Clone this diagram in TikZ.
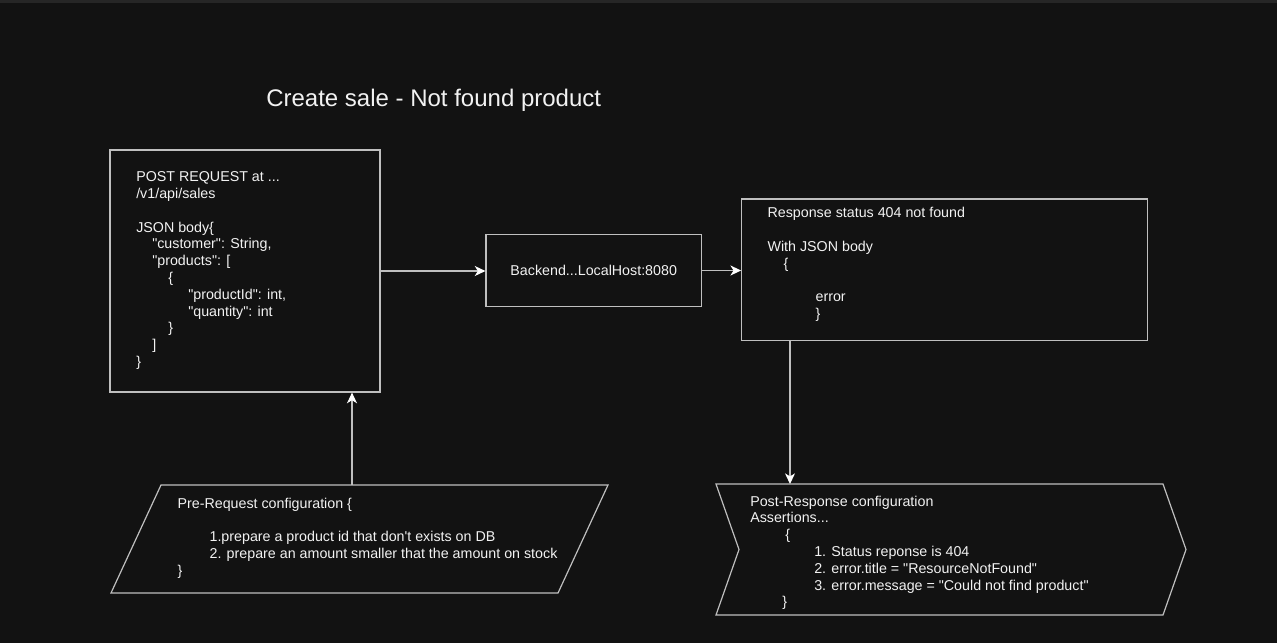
\documentclass[tikz,border=0pt]{standalone}
\usepackage{fontspec}
\setmainfont{Liberation Sans}[Ligatures=TeXOff]
\usetikzlibrary{arrows.meta}

\definecolor{bgcol}{HTML}{121212}
\definecolor{topbar}{HTML}{262626}
\definecolor{linecol}{HTML}{BFBFBF}
\definecolor{txtcol}{HTML}{F2F2F2}

\tikzset{
  box/.style={draw=linecol, line width=0.9pt, inner sep=0pt},
  txt/.style={text=txtcol, inner sep=0pt, anchor=north west, align=left,
    font={\fontsize{10.7pt}{12.6pt}\selectfont}},
  arr/.style={draw=linecol, line width=0.9pt,
    -{Stealth[length=8pt,width=7.5pt,inset=2.3pt,color=white]}},
}

\begin{document}
\begin{tikzpicture}[x=0.75pt,y=-0.75pt]
  \fill[bgcol] (0,0) rectangle (1277,643);
  \fill[topbar] (0,0) rectangle (1277,2.5);

  \node[text=txtcol, inner sep=0pt, anchor=base west,
    font={\fontsize{18pt}{21.6pt}\selectfont}] (title) at (266,106.7) {Create sale - Not found product};

  % request, backend, response
  \node[box, minimum width=202.5pt, minimum height=181.5pt] (req) at (245,271) {};
  \node[box, minimum width=161.5pt, minimum height=54.3pt, text=txtcol,
    font={\fontsize{10.7pt}{12.6pt}\selectfont}] (back) at (593.7,270.5) {Backend...LocalHost:8080};
  \node[box, minimum width=304.2pt, minimum height=106.3pt] (resp) at (944.5,269.9) {};

  % pre-request and post-response shapes
  \draw[box] (161,485) -- (608,485) -- (558,593) -- (111,593) -- cycle;
  \coordinate (pretop) at (352,485);
  \draw[box] (716,484) -- (1163,484) -- (1186,549.5) -- (1163,615) -- (716,615) -- (739,549.5) -- cycle;
  \coordinate (posttop) at (790,484);

  \node[txt] (reqtxt) at (136,171.5) {POST REQUEST at ...\\
    /v1/api/sales\\
    ~\\
    JSON body\{\\
    \hspace*{12pt}"customer": String,\\
    \hspace*{12pt}"products": [\\
    \hspace*{24pt}\{\\
    \hspace*{39pt}"productId": int,\\
    \hspace*{39pt}"quantity": int\\
    \hspace*{24pt}\}\\
    \hspace*{12pt}]\\
    \}};

  \node[txt] (resptxt) at (767.3,207) {Response status 404 not found\\
    ~\\
    With JSON body\\
    \hspace*{12pt}\{\\
    ~\\
    \hspace*{36pt}error\\
    \hspace*{36pt}\}};

  \node[txt] (pretxt) at (177.3,497.5) {Pre-Request configuration \{\\
    ~\\
    \hspace*{24pt}1.prepare a product id that don't exists on DB\\
    \hspace*{24pt}2. prepare an amount smaller that the amount on stock\\
    \}};

  \node[txt] (posttxt) at (750,495.5) {Post-Response configuration\\
    Assertions...\\
    \hspace*{26.3pt}\{\\
    \hspace*{48pt}1. Status reponse is 404\\
    \hspace*{48pt}2. error.title = "ResourceNotFound"\\
    \hspace*{48pt}3. error.message = "Could not find product"\\
    \hspace*{24pt}\}};

  % connectors
  \draw[arr] (req.east) -- (req.east -| back.west);
  \draw[arr] (back.east) -- (back.east -| resp.west);
  \draw[arr] (pretop) -- (pretop |- req.south);
  \draw[arr] (resp.south -| posttop) -- (posttop);
\end{tikzpicture}
\end{document}
